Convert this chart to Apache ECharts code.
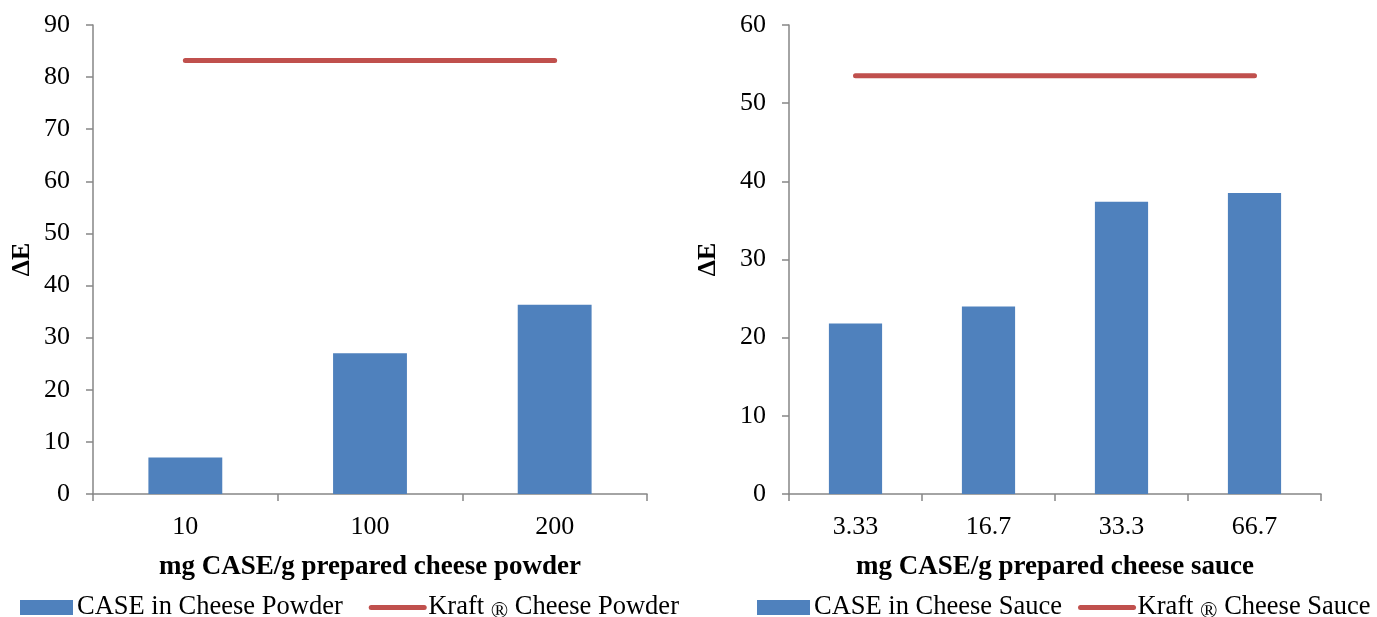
<!DOCTYPE html>
<html>
<head>
<meta charset="utf-8">
<script src="https://cdn.jsdelivr.net/npm/echarts@6/dist/echarts.min.js"></script>
<style>
  html, body { margin: 0; padding: 0; background: #fff; }
  #chart { width: 1377px; height: 617px; }
</style>
</head>
<body>
<div id="chart"></div>
<script>
// Powder panel
const powderCategories = ['10', '100', '200'];
const powderCase = [7.0, 27.0, 36.3];
const powderKraft = [83.2, 83.2, 83.2];

// Sauce panel
const sauceCategories = ['3.33', '16.7', '33.3', '66.7'];
const sauceCase = [21.8, 24.0, 37.4, 38.5];
const sauceKraft = [53.5, 53.5, 53.5, 53.5];

const FONT = "'Liberation Serif', 'Times New Roman', serif";
const BLUE = '#4F81BD';
const RED = '#C0504D';
const AXIS = '#868686';

const chart = echarts.init(document.getElementById('chart'), null, { renderer: 'canvas' });

function xAxis(gridIndex, cats, name) {
  return {
    type: 'category', gridIndex, data: cats,
    name, nameLocation: 'middle', nameGap: 60,
    nameTextStyle: { fontFamily: FONT, fontSize: 27, fontWeight: 'bold', color: '#000' },
    axisLine: { lineStyle: { color: AXIS, width: 1.5 } },
    axisTick: { show: true, length: 7, lineStyle: { color: AXIS, width: 1.5 } },
    axisLabel: { fontFamily: FONT, fontSize: 26, color: '#000', margin: 20 },
    splitLine: { show: false }
  };
}
function yAxis(gridIndex, max, interval, nameGap) {
  return {
    type: 'value', gridIndex, min: 0, max, interval,
    name: 'ΔE', nameLocation: 'middle', nameGap, nameRotate: 90,
    nameTextStyle: { fontFamily: FONT, fontSize: 26, fontWeight: 'bold', color: '#000' },
    axisLine: { show: true, lineStyle: { color: AXIS, width: 1.5 } },
    axisTick: { show: true, length: 7, lineStyle: { color: AXIS, width: 1.5 } },
    axisLabel: { fontFamily: FONT, fontSize: 26, color: '#000', margin: 23 },
    splitLine: { show: false }
  };
}
function legend(left, width, names, gap) {
  return {
    left, top: 594, width, padding: 0, itemGap: gap, itemWidth: 53, itemHeight: 15,
    data: [
      { name: names[0], icon: 'rect' },
      { name: names[1], itemStyle: { opacity: 0 },
        lineStyle: { color: RED, width: 5, cap: 'round', opacity: 1 } }
    ],
    formatter: n => n.replace('®', '{r|®}'),
    textStyle: {
      fontFamily: FONT, fontSize: 26.5, color: '#000', padding: [0, 0, 0, -1],
      rich: { r: { fontFamily: FONT, fontSize: 23, color: '#000', verticalAlign: 'bottom', padding: [8, 0, 0, 0] } }
    }
  };
}

const powderBarName = 'CASE in Cheese Powder';
const powderLineName = 'Kraft ® Cheese Powder';
const sauceBarName = 'CASE in Cheese Sauce';
const sauceLineName = 'Kraft ® Cheese Sauce';

chart.setOption({
  animation: false,
  backgroundColor: '#fff',
  grid: [
    { left: 93, right: 730, top: 25, bottom: 123, containLabel: false },
    { left: 789, right: 56, top: 25, bottom: 123, containLabel: false }
  ],
  xAxis: [
    xAxis(0, powderCategories, 'mg CASE/g prepared cheese powder'),
    xAxis(1, sauceCategories, 'mg CASE/g prepared cheese sauce')
  ],
  yAxis: [yAxis(0, 90, 10, 58), yAxis(1, 60, 10, 68)],
  legend: [
    legend(20, 720, [powderBarName, powderLineName], 26),
    legend(757, 620, [sauceBarName, sauceLineName], 16)
  ],
  series: [
    { name: powderBarName, type: 'bar', xAxisIndex: 0, yAxisIndex: 0, data: powderCase,
      barWidth: '40%', itemStyle: { color: BLUE } },
    { name: powderLineName, type: 'line', xAxisIndex: 0, yAxisIndex: 0, data: powderKraft,
      symbol: 'none', lineStyle: { color: RED, width: 5, cap: 'round' }, itemStyle: { color: RED } },
    { name: sauceBarName, type: 'bar', xAxisIndex: 1, yAxisIndex: 1, data: sauceCase,
      barWidth: '40%', itemStyle: { color: BLUE } },
    { name: sauceLineName, type: 'line', xAxisIndex: 1, yAxisIndex: 1, data: sauceKraft,
      symbol: 'none', lineStyle: { color: RED, width: 5, cap: 'round' }, itemStyle: { color: RED } }
  ]
});
</script>
</body>
</html>
